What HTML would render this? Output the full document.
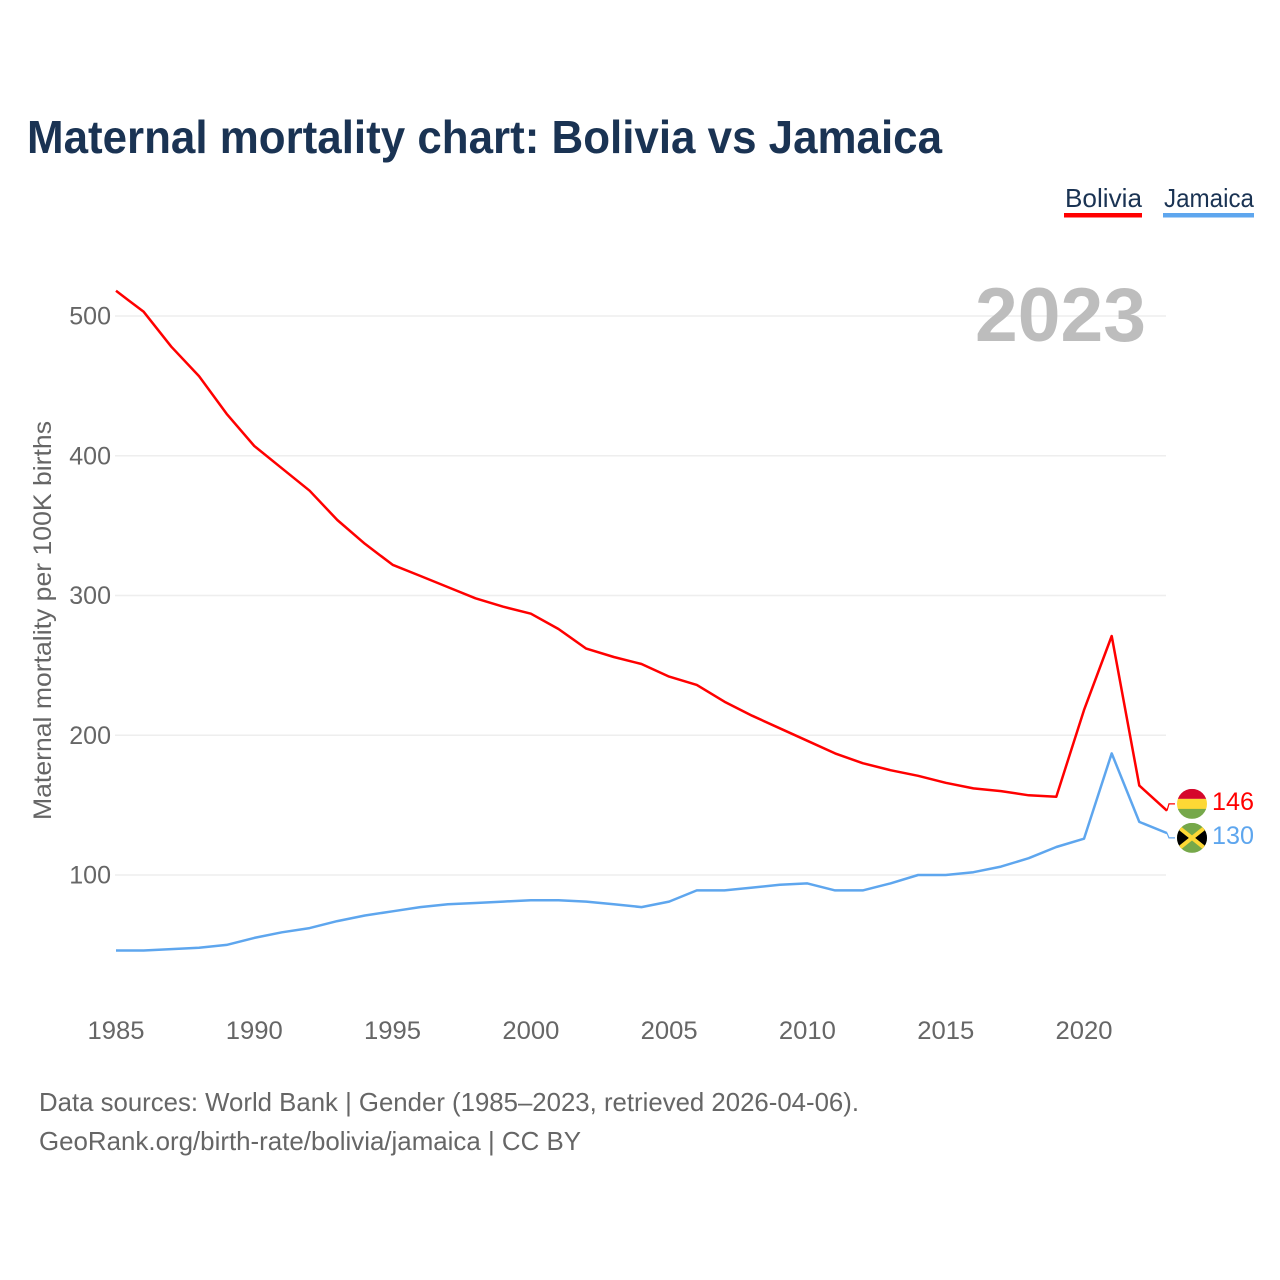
<!DOCTYPE html>
<html lang="en">
<head>
<meta charset="utf-8">
<title>Maternal mortality chart: Bolivia vs Jamaica</title>
<style>
html,body{margin:0;padding:0;background:#fff}
svg{display:block}
text{font-family:"Liberation Sans",sans-serif}
</style>
</head>
<body>
<svg id="chart" xmlns="http://www.w3.org/2000/svg" width="1280" height="1280" viewBox="0 0 1280 1280">
  <rect width="1280" height="1280" fill="#fff"/>
  <text x="27" y="153" font-size="46" font-weight="700" fill="#1a3353" textLength="915" lengthAdjust="spacingAndGlyphs">Maternal mortality chart: Bolivia vs Jamaica</text>
  <g>
    <g>
      <text x="1065" y="207" font-size="26" fill="#1a3353" textLength="77" lengthAdjust="spacingAndGlyphs">Bolivia</text>
      <rect x="1064" y="213" width="78" height="4.5" fill="#ff0000"/>
    </g>
    <g>
      <text x="1164" y="207" font-size="26" fill="#1a3353" textLength="90" lengthAdjust="spacingAndGlyphs">Jamaica</text>
      <rect x="1163" y="213" width="91" height="4.5" fill="#5ea6ee"/>
    </g>
  </g>
  <g id="grid"></g>
  <g id="yticks"></g>
  <g id="xticks"></g>
  <text transform="translate(51 620.5) rotate(-90)" text-anchor="middle" font-size="25" fill="#666" textLength="399" lengthAdjust="spacingAndGlyphs">Maternal mortality per 100K births</text>
  <text x="975" y="341" font-size="76" font-weight="700" fill="#bdbdbd" textLength="171" lengthAdjust="spacingAndGlyphs">2023</text>
  <g id="series"></g>
  <defs>
    <clipPath id="flag-clip"><circle cx="0" cy="0" r="15"/></clipPath>
  </defs>
  <g id="flag-bolivia">
    <g clip-path="url(#flag-clip)">
      <rect x="-15" y="-15" width="30" height="10" fill="#d5072b"/>
      <rect x="-15" y="-5" width="30" height="10.5" fill="#fdd835"/>
      <rect x="-15" y="5" width="30" height="10" fill="#76a84a"/>
    </g>
  </g>
  <g id="flag-jamaica">
    <g clip-path="url(#flag-clip)">
      <rect x="-15" y="-15" width="30" height="30" fill="#76a84a"/>
      <polygon points="-15,-12 0,0 -15,12" fill="#000"/>
      <polygon points="15,-12 0,0 15,12" fill="#000"/>
      <path d="M-15,-12 L15,12 M15,-12 L-15,12" stroke="#fdd835" stroke-width="4" fill="none"/>
    </g>
  </g>
  <text x="39" y="1111" font-size="26" fill="#666" textLength="820" lengthAdjust="spacingAndGlyphs">Data sources: World Bank | Gender (1985–2023, retrieved 2026-04-06).</text>
  <text x="39" y="1150" font-size="26" fill="#666" textLength="542" lengthAdjust="spacingAndGlyphs">GeoRank.org/birth-rate/bolivia/jamaica | CC BY</text>
</svg>
<script>
const years = [1985,1986,1987,1988,1989,1990,1991,1992,1993,1994,1995,1996,1997,1998,1999,2000,2001,2002,2003,2004,2005,2006,2007,2008,2009,2010,2011,2012,2013,2014,2015,2016,2017,2018,2019,2020,2021,2022,2023];
const bolivia = [518,503,478,457,430,407,391,375,354,337,322,314,306,298,292,287,276,262,256,251,242,236,224,214,205,196,187,180,175,171,166,162,160,157,156,218,271,164,146];
const jamaica = [46,46,47,48,50,55,59,62,67,71,74,77,79,80,81,82,82,81,79,77,81,89,89,91,93,94,89,89,94,100,100,102,106,112,120,126,187,138,130];
const yTicks = [100,200,300,400,500];
const xTicks = [1985,1990,1995,2000,2005,2010,2015,2020];

const NS = 'http://www.w3.org/2000/svg';
function xScale(year){ return 116 + (year - 1985) * (1084 - 116) / 35; }
function yScale(v){ return 875 - (v - 100) * (875 - 316) / 400; }
function make(tag, attrs, parent){
  const el = document.createElementNS(NS, tag);
  for (const k in attrs) el.setAttribute(k, attrs[k]);
  parent.appendChild(el);
  return el;
}

const gridG = document.getElementById('grid');
const yG = document.getElementById('yticks');
const xG = document.getElementById('xticks');
const seriesG = document.getElementById('series');

yTicks.forEach(function(t){
  const line = make('line', {x1:115, x2:1166, y1:yScale(t), y2:yScale(t), stroke:'#eeeeee', 'stroke-width':1.5}, gridG);
  
  
  const lab = make('text', {x:111, y:yScale(t) + 8.5, 'text-anchor':'end', 'font-size':25, fill:'#666'}, yG);
  
  
  lab.textContent = t;
});

xTicks.forEach(function(t){
  const lab = make('text', {x:xScale(t), y:1039, 'text-anchor':'middle', 'font-size':25, fill:'#666', textLength:57, lengthAdjust:'spacingAndGlyphs'}, xG);
  
  
  lab.textContent = t;
});

function linePath(values){
  return values.map(function(v, i){
    return (i ? 'L' : 'M') + xScale(years[i]).toFixed(1) + ' ' + yScale(v).toFixed(1);
  }).join(' ');
}

const boliviaLine = make('path', {d:linePath(bolivia), fill:'none', stroke:'#ff0000', 'stroke-width':2.5, 'stroke-linejoin':'round'}, seriesG);



const jamaicaLine = make('path', {d:linePath(jamaica), fill:'none', stroke:'#5ea6ee', 'stroke-width':2.5, 'stroke-linejoin':'round'}, seriesG);



/* end-of-line labels: spread apart to a minimum separation */
const lastB = bolivia[bolivia.length - 1];
const lastJ = jamaica[jamaica.length - 1];
const yB = yScale(lastB);
const yJ = yScale(lastJ);
const minSep = 34;
const mid = (yB + yJ) / 2 - 1;
const labelB = Math.abs(yJ - yB) >= minSep ? yB : mid - minSep / 2;
const labelJ = Math.abs(yJ - yB) >= minSep ? yJ : mid + minSep / 2;
const xEnd = xScale(years[years.length - 1]);

const connB = make('path', {d:'M' + xEnd + ' ' + yB + ' L' + (xEnd + 2) + ' ' + labelB + ' L' + (xEnd + 8) + ' ' + labelB, fill:'none', stroke:'#ff0000', 'stroke-width':1.2}, seriesG);



const connJ = make('path', {d:'M' + xEnd + ' ' + yJ + ' L' + (xEnd + 2) + ' ' + labelJ + ' L' + (xEnd + 8) + ' ' + labelJ, fill:'none', stroke:'#5ea6ee', 'stroke-width':1.2}, seriesG);



document.getElementById('flag-bolivia').setAttribute('transform', 'translate(1192 ' + labelB + ')');
document.getElementById('flag-jamaica').setAttribute('transform', 'translate(1192 ' + labelJ + ')');

const valB = make('text', {x:1212, y:labelB + 6, 'font-size':25, fill:'#ff0000', textLength:42, lengthAdjust:'spacingAndGlyphs'}, seriesG);


valB.textContent = lastB;

const valJ = make('text', {x:1212, y:labelJ + 6, 'font-size':25, fill:'#5ea6ee', textLength:42, lengthAdjust:'spacingAndGlyphs'}, seriesG);


valJ.textContent = lastJ;
</script>
</body>
</html>
